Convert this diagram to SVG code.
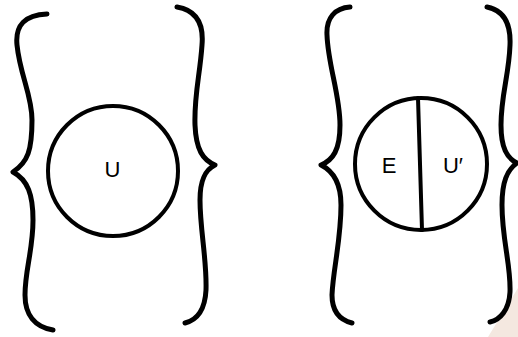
<svg xmlns="http://www.w3.org/2000/svg" width="518" height="337" viewBox="0 0 518 337">
<style>
.brace{fill:none;stroke:#000;stroke-width:5;stroke-linecap:round;stroke-linejoin:round}
.ring{fill:#fff;stroke:#000;stroke-width:4}
.div{stroke:#000;stroke-width:4;stroke-linecap:round}
.lbl{font-family:"Liberation Sans",Arial,sans-serif;font-size:22px;fill:#000;text-anchor:middle}
</style>
<rect width="518" height="337" fill="#fff"/>
<polygon points="488,337 518,288 518,337" fill="#f4e8e0"/>
<g id="set-u">
<path class="brace" d="M47,14 C25,15 15,25 17,45 C20,75 32,95 32,120 C32,150 28,162 13,172 C28,180 33,195 33,220 C33,250 25,270 25,295 C25,315 35,327 53,330"/>
<path class="brace" d="M177,7 C195,10 204,22 202,45 C200,75 194,95 195,125 C196,150 203,160 215,165 C205,170 200,180 200,200 C200,230 207,260 206,290 C205,310 197,320 185,323"/>
<circle class="ring" cx="113" cy="171" r="65"/>
<text class="lbl" x="112.5" y="177" font-size="23">U</text>
</g>
<g id="set-e-u">
<path class="brace" d="M350,7 C335,8 326,18 327,35 C328,65 340,95 340,125 C340,150 333,160 321,165 C335,172 341,185 341,205 C341,240 333,270 332,295 C332,312 340,320 352,323"/>
<path class="brace" d="M487,7 C502,10 511,22 510,45 C509,75 501,95 501,125 C501,148 507,158 517,163 C507,170 502,182 502,205 C502,240 511,265 510,292 C509,310 500,320 490,322"/>
<circle class="ring" cx="421" cy="164" r="66"/>
<line class="div" x1="418" y1="98" x2="422" y2="230"/>
<text class="lbl" x="389" y="173">E</text>
<text class="lbl" x="453" y="173">U′</text>
</g>
</svg>
